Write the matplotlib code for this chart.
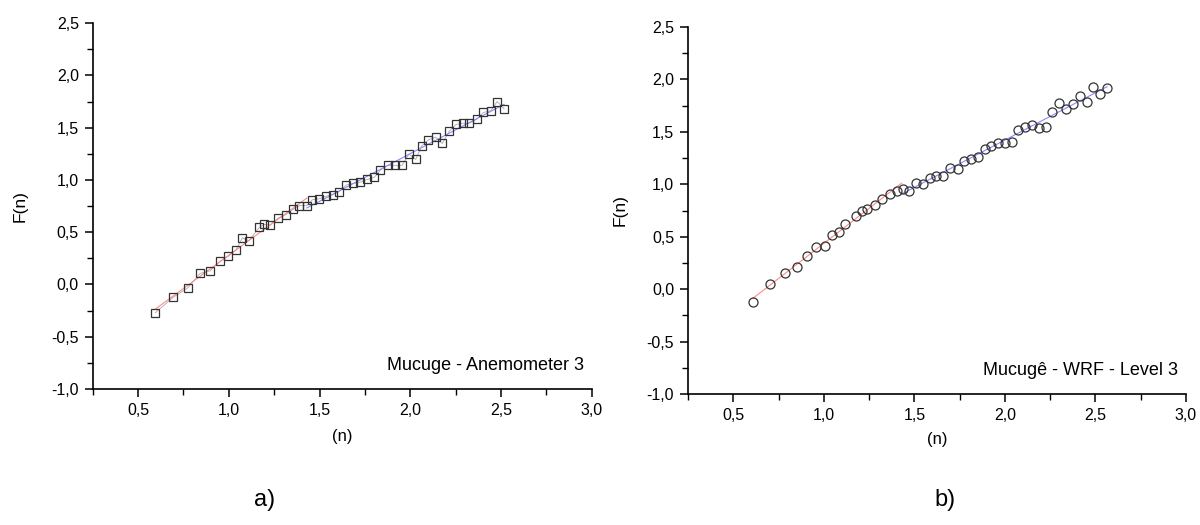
import numpy as np
import matplotlib.pyplot as plt
from matplotlib.ticker import MultipleLocator, FuncFormatter

plt.rcParams['font.family'] = ['Liberation Sans', 'DejaVu Sans']

# a) Mucuge - Anemometer 3
n_a = [0.595, 0.693, 0.774, 0.842, 0.898, 0.95, 0.996, 1.038, 1.075, 1.11,
       1.168, 1.194, 1.226, 1.272, 1.316, 1.354, 1.389, 1.43, 1.459, 1.499,
       1.536, 1.573, 1.606, 1.646, 1.683, 1.723, 1.764, 1.801, 1.835, 1.876,
       1.916, 1.955, 1.992, 2.03, 2.063, 2.1, 2.14, 2.176, 2.216, 2.253,
       2.29, 2.326, 2.367, 2.403, 2.444, 2.479, 2.517]
F_a = [-0.27, -0.123, -0.032, 0.106, 0.131, 0.221, 0.269, 0.329, 0.446, 0.418,
       0.545, 0.575, 0.568, 0.635, 0.669, 0.718, 0.755, 0.755, 0.809, 0.82,
       0.845, 0.86, 0.886, 0.95, 0.966, 0.979, 1.005, 1.024, 1.094, 1.139,
       1.139, 1.139, 1.247, 1.196, 1.326, 1.383, 1.409, 1.349, 1.469, 1.531,
       1.543, 1.543, 1.581, 1.645, 1.661, 1.75, 1.68]

# b) Mucugê - WRF - Level 3
n_b = [0.607, 0.703, 0.784, 0.85, 0.907, 0.958, 1.004, 1.046, 1.085, 1.118,
       1.179, 1.212, 1.238, 1.284, 1.324, 1.365, 1.402, 1.435, 1.468, 1.507,
       1.549, 1.586, 1.619, 1.659, 1.696, 1.74, 1.775, 1.812, 1.851, 1.888,
       1.924, 1.963, 2.0, 2.038, 2.073, 2.111, 2.15, 2.187, 2.226, 2.263,
       2.301, 2.336, 2.376, 2.413, 2.452, 2.487, 2.526, 2.564]
F_b = [-0.119, 0.047, 0.155, 0.215, 0.32, 0.40, 0.409, 0.517, 0.549, 0.622,
       0.696, 0.746, 0.765, 0.801, 0.864, 0.911, 0.94, 0.956, 0.94, 1.016,
       1.004, 1.061, 1.077, 1.077, 1.159, 1.144, 1.22, 1.242, 1.258, 1.341,
       1.364, 1.392, 1.392, 1.405, 1.519, 1.545, 1.564, 1.535, 1.551, 1.691,
       1.78, 1.717, 1.767, 1.846, 1.786, 1.927, 1.86, 1.923]

split_a = 1.43
split_b = 1.43

fig = plt.figure(figsize=(12, 5.25), dpi=100)
ax1 = fig.add_axes([0.0773, 0.259, 0.4158, 0.697])
ax2 = fig.add_axes([0.5733, 0.2495, 0.415, 0.699])

comma = FuncFormatter(lambda v, p: f"{v:.1f}".replace('.', ','))


def panel(ax, x, y, split, marker, ms, note, gray_line):
    x = np.array(x)
    y = np.array(y)
    if gray_line:
        ax.plot(x, y, color='#aaaaaa', lw=0.6, zorder=1)
    lo = x <= split
    hi = x >= split
    m1, b1 = np.polyfit(x[lo], y[lo], 1)
    m2, b2 = np.polyfit(x[hi], y[hi], 1)
    xs = np.array([x.min(), split])
    ax.plot(xs, m1 * xs + b1, color='#ff8a8a', lw=0.8, zorder=2)
    xs = np.array([split, x.max()])
    ax.plot(xs, m2 * xs + b2, color='#8a8aff', lw=0.8, zorder=2)
    ax.plot(x, y, ls='none', marker=marker, ms=ms, mfc='none', mec='#333333',
            mew=0.9, zorder=3)
    ax.set_xlim(0.25, 3.0)
    ax.set_ylim(-1.0, 2.5)
    ax.spines['top'].set_visible(False)
    ax.spines['right'].set_visible(False)
    for s in ['left', 'bottom']:
        ax.spines[s].set_linewidth(1.2)
    ax.xaxis.set_major_locator(MultipleLocator(0.5))
    ax.xaxis.set_minor_locator(MultipleLocator(0.25))
    ax.yaxis.set_major_locator(MultipleLocator(0.5))
    ax.yaxis.set_minor_locator(MultipleLocator(0.25))
    ax.xaxis.set_major_formatter(comma)
    ax.yaxis.set_major_formatter(comma)
    ax.tick_params(which='major', direction='out', length=6, width=1.1,
                   labelsize=11.5, pad=4)
    ax.tick_params(which='minor', direction='out', length=4, width=1.0)
    ax.text(0.985, 0.063, note, transform=ax.transAxes, ha='right', va='center',
            fontsize=13)


panel(ax1, n_a, F_a, split_a, 's', 6, "Mucuge - Anemometer 3", True)
panel(ax2, n_b, F_b, split_b, 'o', 6.5, "Mucugê - WRF - Level 3", False)

ax1.text(-0.146, 0.5, "F(n)", transform=ax1.transAxes, rotation=90,
         ha='center', va='center', fontsize=12.5)
ax2.text(-0.137, 0.5, "F(n)", transform=ax2.transAxes, rotation=90,
         ha='center', va='center', fontsize=12.5)
ax1.text(0.5, -0.131, "(n)", transform=ax1.transAxes, ha='center', va='center',
         fontsize=12)
ax2.text(0.5, -0.125, "(n)", transform=ax2.transAxes, ha='center', va='center',
         fontsize=12)

fig.text(265 / 1200, 1 - 500 / 525, "a)", ha='center', va='center', fontsize=17)
fig.text(945 / 1200, 1 - 500 / 525, "b)", ha='center', va='center', fontsize=17)

fig.savefig("out.png", dpi=100)
